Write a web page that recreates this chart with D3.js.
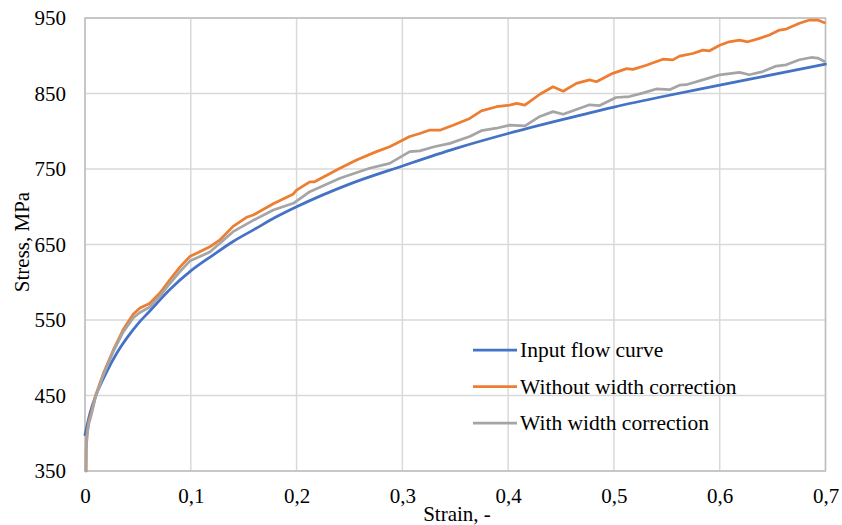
<!DOCTYPE html>
<html><head><meta charset="utf-8">
<script src="https://cdn.jsdelivr.net/npm/d3@7"></script>
</head><body style="margin:0;background:#fff">
<svg id="c" width="842" height="525" font-family="Liberation Serif"></svg>
<script>
const xTicks = [0, 0.1, 0.2, 0.3, 0.4, 0.5, 0.6, 0.7];
const xTickLabels = ["0", "0,1", "0,2", "0,3", "0,4", "0,5", "0,6", "0,7"];
const yTicks = [350, 450, 550, 650, 750, 850, 950];
const seriesNames = ["Input flow curve", "Without width correction", "With width correction"];
const seriesColors = ["#4472C4", "#ED7D31", "#A5A5A5"];

const inputStrain = [0, 0.005, 0.01, 0.02, 0.03, 0.04, 0.05, 0.06, 0.08, 0.1, 0.12, 0.14, 0.16, 0.18, 0.2, 0.25, 0.3, 0.35, 0.4, 0.45, 0.5, 0.55, 0.6, 0.65, 0.7];
const inputStress = [398, 428, 449, 480, 506, 527, 545, 560, 590, 615, 635, 654, 670, 686, 700, 730, 754, 777, 797, 815, 832, 847, 861, 875, 889];

const noCorrStrain = [0.001, 0.0012, 0.002, 0.0035, 0.006, 0.01, 0.0173, 0.0267, 0.036, 0.0457, 0.052, 0.061, 0.071, 0.08, 0.0897, 0.099, 0.108, 0.118, 0.1275, 0.14, 0.1527, 0.159, 0.178, 0.197, 0.2, 0.2125, 0.217, 0.241, 0.2567, 0.2755, 0.288, 0.307, 0.3165, 0.326, 0.336, 0.348, 0.3637, 0.3747, 0.389, 0.4015, 0.408, 0.4157, 0.42, 0.43, 0.4424, 0.452, 0.4645, 0.477, 0.4834, 0.499, 0.512, 0.518, 0.5306, 0.5463, 0.5557, 0.562, 0.5746, 0.584, 0.5904, 0.6, 0.609, 0.6187, 0.6266, 0.6376, 0.647, 0.6565, 0.6628, 0.6754, 0.6849, 0.6927, 0.699];
const noCorrStress = [350, 380, 400, 415, 428, 450, 479, 510, 537, 558, 566, 572, 586, 603, 620, 634, 640, 647, 656, 674, 686, 689, 704, 717, 722, 733, 733, 751, 762, 773, 779.5, 793, 797, 801.6, 801.6, 808, 817, 827, 832.5, 834.7, 837, 834.7, 839, 849, 859, 853, 863.5, 868, 865.6, 876.7, 883, 882, 887.4, 895.4, 894.5, 899.5, 903, 907.5, 906.6, 914, 918.5, 920.8, 918.5, 923, 927.4, 934, 935.4, 943, 947.3, 947.3, 943.8];

const corrStrain = [0.001, 0.0012, 0.002, 0.0035, 0.006, 0.01, 0.0173, 0.0267, 0.036, 0.0457, 0.052, 0.061, 0.071, 0.08, 0.0897, 0.099, 0.118, 0.14, 0.159, 0.178, 0.197, 0.2125, 0.241, 0.269, 0.288, 0.307, 0.3165, 0.33, 0.345, 0.3637, 0.3747, 0.389, 0.4015, 0.416, 0.4204, 0.43, 0.4424, 0.452, 0.477, 0.4865, 0.502, 0.5148, 0.527, 0.54, 0.5526, 0.562, 0.5683, 0.584, 0.6, 0.6187, 0.628, 0.6407, 0.6534, 0.6628, 0.6754, 0.6864, 0.6927, 0.699];
const corrStress = [350, 380, 398, 412, 425, 448, 477, 508, 534, 553, 560, 567, 582, 598, 614, 628, 640, 667, 682, 695.7, 704.6, 720, 737.7, 751, 757.5, 773, 774, 779.5, 784, 793, 800.7, 804, 808, 807, 811, 819.6, 826, 822.5, 835, 834, 844.7, 846, 850.5, 856, 855, 861, 861.6, 868, 874.8, 878, 874.8, 879, 886.4, 888, 894.7, 897.7, 897, 892.5];

const FONT = "Liberation Serif";
const svg = d3.select("#c");
const L = 85, R = 825.5, T = 18, B = 471;
const x = d3.scaleLinear().domain([0, 0.7]).range([L, R]);
const y = d3.scaleLinear().domain([350, 950]).range([B, T]);

// grid
const g = svg.append("g");
g.selectAll(".vg").data(xTicks).join("line")
  .attr("x1", d => x(d)).attr("x2", d => x(d)).attr("y1", T).attr("y2", B)
  .attr("stroke", "#d9d9d9").attr("stroke-width", 1.5);
g.selectAll(".hg").data(yTicks).join("line")
  .attr("x1", L).attr("x2", R).attr("y1", d => y(d)).attr("y2", d => y(d))
  .attr("stroke", "#d9d9d9").attr("stroke-width", 1.5);
svg.append("rect").attr("x", L).attr("y", T).attr("width", R - L).attr("height", B - T)
  .attr("fill", "none").attr("stroke", "#bfbfbf").attr("stroke-width", 1.5);

// axes labels via d3 axes
const xAxis = d3.axisBottom(x).tickValues(xTicks).tickFormat((d, i) => xTickLabels[i]).tickSize(0).tickPadding(0);
const xa = svg.append("g").attr("transform", `translate(0,${B})`).call(xAxis);
xa.attr("font-family", FONT).attr("font-size", 21);
xa.select(".domain").remove();
xa.selectAll("text").attr("font-family", FONT).attr("font-size", 21).attr("fill", "#000").attr("dy", null).attr("y", 32);

const yAxis = d3.axisLeft(y).tickValues(yTicks).tickFormat(d3.format("d")).tickSize(0).tickPadding(0);
const ya = svg.append("g").attr("transform", `translate(66,0)`).call(yAxis);
ya.attr("font-family", FONT).attr("font-size", 21);
ya.select(".domain").remove();
ya.selectAll("text").attr("font-family", FONT).attr("font-size", 21).attr("fill", "#000").attr("dy", "0.33em").attr("x", 0);

// lines
const series = [
  {sx: inputStrain, sy: inputStress, c: seriesColors[0], curve: d3.curveMonotoneX},
  {sx: noCorrStrain, sy: noCorrStress, c: seriesColors[1], curve: d3.curveLinear},
  {sx: corrStrain, sy: corrStress, c: seriesColors[2], curve: d3.curveLinear}
];
series.forEach(s => {
  const pts = s.sx.map((v, i) => [v, s.sy[i]]);
  svg.append("path").datum(pts)
    .attr("d", d3.line().x(d => x(d[0])).y(d => y(d[1])).curve(s.curve))
    .attr("fill", "none").attr("stroke", s.c).attr("stroke-width", 2.75)
    .attr("stroke-linejoin", "round").attr("stroke-linecap", "round");
});

// legend
const leg = svg.append("g");
const legY = [350, 386.5, 423];
seriesNames.forEach((n, i) => {
  leg.append("line").attr("x1", 473).attr("x2", 517).attr("y1", legY[i]).attr("y2", legY[i])
    .attr("stroke", seriesColors[i]).attr("stroke-width", 2.75);
  leg.append("text").attr("x", 520).attr("y", legY[i] + 7)
    .attr("font-family", FONT).attr("font-size", 21.5).attr("fill", "#000").text(n);
});

// axis titles
svg.append("text").attr("x", 457).attr("y", 521).attr("text-anchor", "middle")
  .attr("font-family", FONT).attr("font-size", 21).attr("fill", "#000").text("Strain, -");
svg.append("text").attr("transform", "translate(29,242) rotate(-90)").attr("text-anchor", "middle")
  .attr("font-family", FONT).attr("font-size", 21).attr("fill", "#000").text("Stress, MPa");
</script></body></html>
